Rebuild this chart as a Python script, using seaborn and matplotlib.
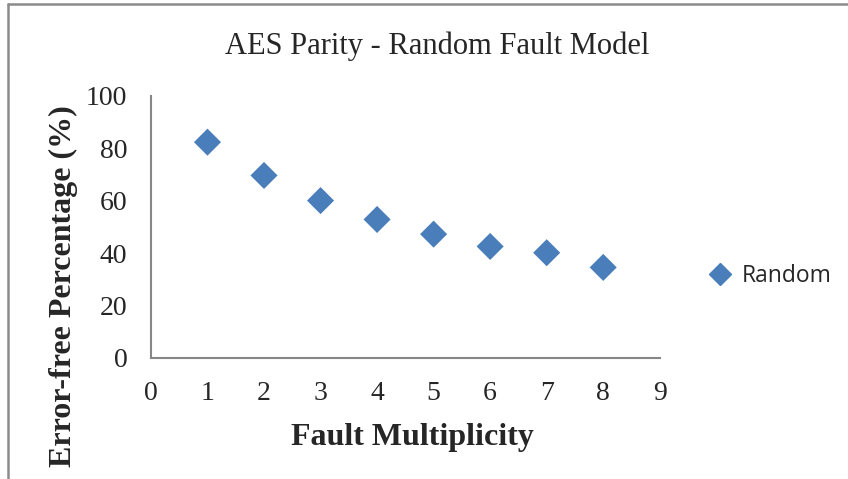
import matplotlib
matplotlib.use("Agg")
import matplotlib.pyplot as plt
from matplotlib.lines import Line2D
import seaborn as sns
import pandas as pd

# data
multiplicity = [1, 2, 3, 4, 5, 6, 7, 8]
error_free = [82.3, 69.6, 60.0, 52.8, 47.2, 42.5, 40.1, 34.5]
series_name = "Random"

df = pd.DataFrame({"Fault Multiplicity": multiplicity,
                   "Error-free Percentage (%)": error_free,
                   "series": series_name})

sns.set_style("white")
plt.rcParams['font.family'] = ['Liberation Serif', 'DejaVu Serif']

fig = plt.figure(figsize=(8.48, 4.79), dpi=100)
ax = fig.add_axes([0.178, 0.253, 0.600, 0.547])

blue = "#4a7ebb"
sns.scatterplot(data=df, x="Fault Multiplicity", y="Error-free Percentage (%)",
                hue="series", palette=[blue], marker="D", s=190,
                edgecolor=blue, linewidth=0, ax=ax, legend=False)

ax.set_xlim(0, 9)
ax.set_ylim(0, 100)
ax.set_xticks(range(0, 10))
ax.set_yticks(range(0, 101, 20))
ax.tick_params(axis="both", labelsize=20, length=0)
ax.tick_params(axis="x", pad=17)
ax.tick_params(axis="y", pad=17)

for side in ["top", "right"]:
    ax.spines[side].set_visible(False)
for side in ["left", "bottom"]:
    ax.spines[side].set_color("#868686")
    ax.spines[side].set_linewidth(1.5)

ax.set_xlabel("Fault Multiplicity", fontsize=23, fontweight="bold", va="center")
ax.xaxis.set_label_coords(0.513, -0.305)
ax.set_ylabel("Error-free Percentage (%)", fontsize=23, fontweight="bold", va="center")
ax.yaxis.set_label_coords(-0.172, 0.275)

fig.text(0.515, 0.904, "AES Parity - Random Fault Model", fontsize=22,
         ha="center", va="center")

handle = Line2D([], [], marker="D", color=blue, linestyle="none", markersize=11)
leg = fig.legend([handle], [series_name], loc="center left",
                 bbox_to_anchor=(0.825, 0.424), frameon=False,
                 prop={"family": "Open Sans", "size": 16.5},
                 handletextpad=0.45, handlelength=1.0, borderaxespad=0)

# chart-area border (top and left visible)
fig.add_artist(Line2D([0.010, 1.0], [0.991, 0.991], transform=fig.transFigure,
                      color="#8c8c8c", linewidth=1.8))
fig.add_artist(Line2D([0.010, 0.010], [0.0, 0.991], transform=fig.transFigure,
                      color="#8c8c8c", linewidth=1.8))

plt.savefig("out.png", dpi=100)
